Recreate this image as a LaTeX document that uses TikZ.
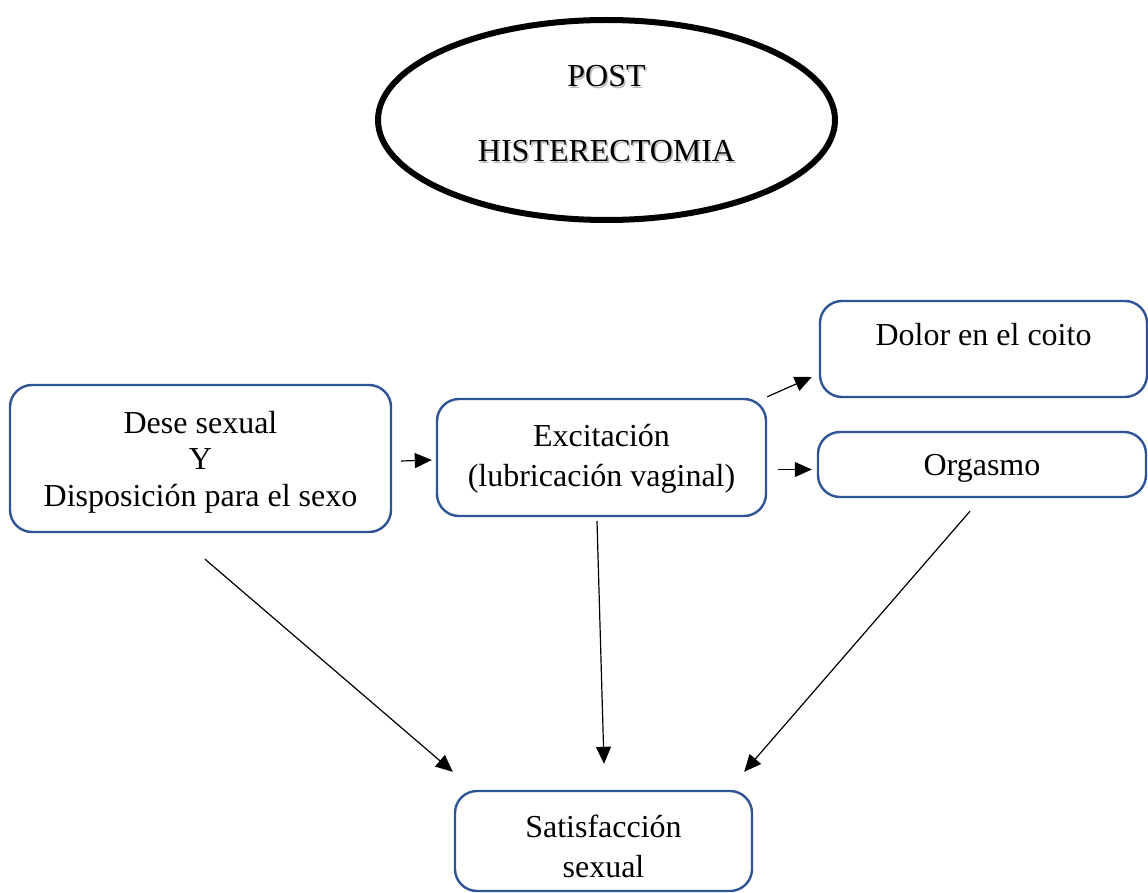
\documentclass[tikz,border=0pt]{standalone}
\usepackage{fontspec}
\setmainfont{Liberation Serif}
\usetikzlibrary{shapes.geometric,arrows.meta}
\definecolor{boxblue}{RGB}{47,84,150}
\begin{document}
\begin{tikzpicture}[x=1pt,y=-1pt,
  box/.style={draw=boxblue,line width=2.4pt,rounded corners=22pt,inner sep=0pt,rectangle},
  txt/.style={font=\fontsize{32}{38}\selectfont,inner sep=0pt,anchor=base},
  shade/.style={txt,text=black!45,opacity=0.6},
  arr/.style={-{Triangle[length=17pt,width=15pt]},line width=1.2pt}]
\useasboundingbox (0,0) rectangle (1148,893);

% title ellipse
\node[ellipse,draw,line width=6pt,minimum width=457pt,minimum height=200pt,inner sep=0pt] (post) at (606.5,120) {};
\node[shade] at (608,89) {POST};
\node[txt] (t1) at (606.5,87) {POST};
\node[shade] at (608,164) {HISTERECTOMIA};
\node[txt] (t2) at (606.5,162) {HISTERECTOMIA};

% boxes
\node[box,minimum width=381pt,minimum height=147pt] (dese) at (200.5,458.5) {};
\node[txt] at (200.5,433) {Dese sexual};
\node[txt] at (200.5,469) {Y};
\node[txt] at (200.5,506) {Disposición para el sexo};

\node[box,minimum width=329pt,minimum height=117pt] (exc) at (601.5,457.5) {};
\node[txt] at (601.5,446) {Excitación};
\node[txt] at (601.5,486) {(lubricación vaginal)};

\node[box,minimum width=327pt,minimum height=96pt] (dolor) at (983.5,349) {};
\node[txt] at (983.5,345) {Dolor en el coito};

\node[box,minimum width=328pt,minimum height=65pt] (org) at (982,464.5) {};
\node[txt] at (982,475) {Orgasmo};

\node[box,minimum width=297pt,minimum height=100pt] (sat) at (603.5,841) {};
\node[txt] at (603.5,837) {Satisfacción};
\node[txt] at (603.5,877) {sexual};

% connectors
\draw[arr] ([shift={(9,2.5)}]dese.east) -- ([shift={(-4,2.5)}]exc.west);
\draw[arr] ([shift={(0,-1)}]exc.north east) -- ([shift={(-7,28)}]dolor.west);
\draw[arr] ([shift={(11,12)}]exc.east) -- ([shift={(-5,5)}]org.west);
\draw[arr] ([shift={(4.5,26)}]dese.south) -- ([shift={(-1,-18)}]sat.north west);
\draw[arr] ([shift={(-4.5,4)}]exc.south) -- ([shift={(0.5,-26)}]sat.north);
\draw[arr] ([shift={(-12,13)}]org.south) -- ([shift={(-9,-18)}]sat.north east);
\end{tikzpicture}
\end{document}
